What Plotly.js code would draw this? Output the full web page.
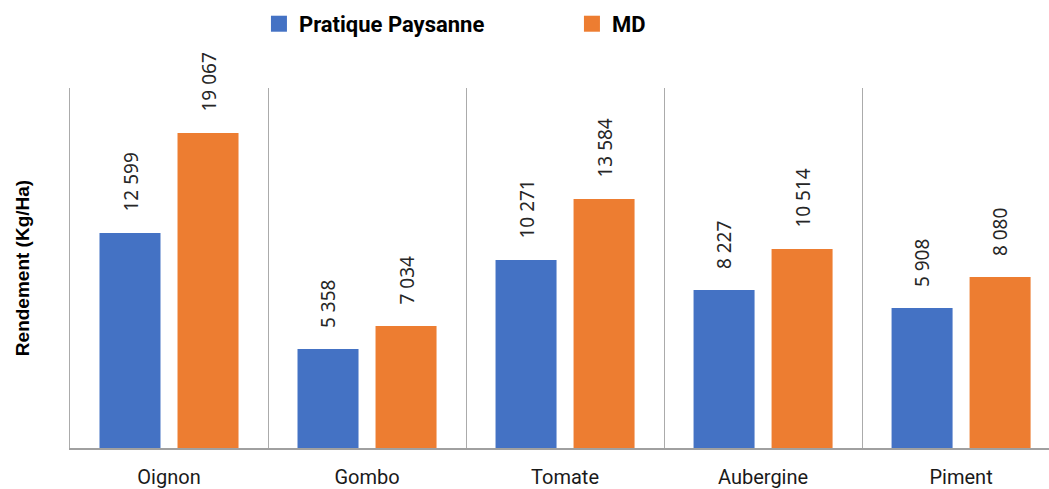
<!DOCTYPE html>
<html>
<head>
<meta charset="utf-8">
<script src="https://cdn.plot.ly/plotly-3.0.1.min.js"></script>
<style>html,body{margin:0;padding:0;background:#fff;}#chart{width:1049px;height:489px;}</style>
</head>
<body>
<div id="chart"></div>
<script>
// Categories (crops)
const categories = ["Oignon", "Gombo", "Tomate", "Aubergine", "Piment"];
// Series names
const seriesNames = ["Pratique Paysanne", "MD"];
// Yield values shown in the data labels (Kg/Ha)
const pratiqueLabels = [12599, 5358, 10271, 8227, 5908];
const mdLabels = [19067, 7034, 13584, 10514, 8080];
// Bar lengths as drawn in the picture (on the chart's own implicit scale, Kg/Ha)
const pratiqueBars = [12900, 5940, 11280, 9480, 8400];
const mdBars = [18900, 7320, 14940, 11940, 10260];

const colors = ["#4472C4", "#ED7D31"];

function fmt(v) {
  return String(v).replace(/\B(?=(\d{3})+(?!\d))/g, " ");
}

const traces = [
  { type: "bar", name: seriesNames[0], x: categories, y: pratiqueBars,
    marker: { color: colors[0] }, hoverinfo: "none", showlegend: false },
  { type: "bar", name: seriesNames[1], x: categories, y: mdBars,
    marker: { color: colors[1] }, hoverinfo: "none", showlegend: false },
  // legend-only entries (larger square swatches like the reference)
  { type: "scatter", mode: "markers", name: seriesNames[0], x: [categories[0]], y: [null],
    marker: { symbol: "square", size: 18, color: colors[0], line: { width: 0 } }, hoverinfo: "none" },
  { type: "scatter", mode: "markers", name: seriesNames[1], x: [categories[0]], y: [null],
    marker: { symbol: "square", size: 18, color: colors[1], line: { width: 0 } }, hoverinfo: "none" }
];

const labelFont = { family: "Noto Sans, Open Sans, sans-serif", size: 19, color: "#262626" };
const annotations = [];
[[pratiqueBars, pratiqueLabels, -39], [mdBars, mdLabels, 39]].forEach(([bars, labels, dx]) => {
  categories.forEach((c, i) => {
    annotations.push({
      x: c, y: bars[i], xref: "x", yref: "y",
      text: fmt(labels[i]), textangle: -90, showarrow: false,
      xanchor: "center", yanchor: "bottom", xshift: dx, yshift: 19,
      font: labelFont
    });
  });
});

const layout = {
  width: 1049, height: 489,
  margin: { l: 70, r: 0, t: 88, b: 41, pad: 0 },
  paper_bgcolor: "#ffffff", plot_bgcolor: "#ffffff",
  barmode: "group", bargap: 0.212, bargroupgap: 0.218,
  showlegend: true,
  legend: {
    orientation: "h", x: 0.193, xanchor: "left", y: 1.178, yanchor: "middle",
    font: { family: "Roboto, sans-serif", size: 22, color: "#000", weight: "bold" },
    entrywidth: 268, itemclick: false, itemdoubleclick: false
  },
  xaxis: {
    range: [-0.5, 4.444], fixedrange: true,
    tickson: "boundaries", showgrid: true, gridcolor: "#ababab", gridwidth: 1,
    showline: true, linecolor: "#a0a0a0", linewidth: 2,
    ticks: "", ticklabelstandoff: 10,
    tickfont: { family: "Roboto, sans-serif", size: 20, color: "#1a1a1a" },
    zeroline: false
  },
  yaxis: {
    range: [0, 21600], fixedrange: true,
    showgrid: false, zeroline: false, showticklabels: false, ticks: "",
    showline: true, linecolor: "#ababab", linewidth: 1,
    title: { text: "Rendement (Kg/Ha)", standoff: 34,
      font: { family: "Liberation Sans, Arial, sans-serif", size: 19, color: "#000", weight: "bold" } },
    automargin: false
  },
  annotations: annotations
};

Plotly.newPlot("chart", traces, layout, { displayModeBar: false, staticPlot: true });
</script>
</body>
</html>
